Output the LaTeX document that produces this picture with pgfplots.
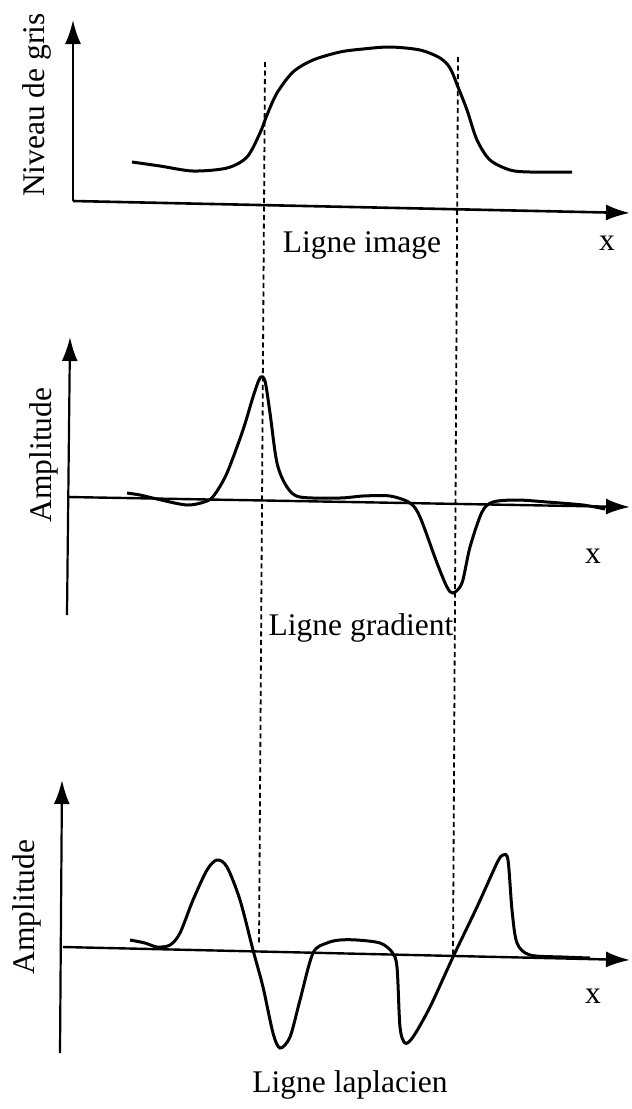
\documentclass[border=0pt]{standalone}
\usepackage{pgfplots}
\pgfplotsset{compat=1.18}
\usepackage{fontspec}
\setmainfont{Liberation Serif}
\usetikzlibrary{arrows.meta}
\begin{document}
\begin{tikzpicture}
\begin{axis}[
  x=1pt, y=1pt, y dir=reverse,
  xmin=0, xmax=629, ymin=0, ymax=1109,
  hide axis, clip=false, scale only axis,
  every axis plot/.append style={black},
]
% bounding frame (invisible)
\addplot[draw=none] coordinates {(0,0) (629,1109)};

% ---- Panel 1: Ligne image
\addplot[line width=2.2pt, -{Latex[length=24pt,width=16pt]}] coordinates {(73,201) (73,20)};
\addplot[line width=2.6pt, -{Latex[length=24pt,width=16pt]}] coordinates {(73,201) (630,213)};
\addplot[line width=3pt, smooth] coordinates {
(132,162) (160,166) (193,171) (227,168) (247,157) (260,133) (267,115) (277,93)
(293,72) (313,60) (340,52) (363,49) (390,47) (420,50) (440,58) (450,68)
(458,87) (467,110) (477,140) (490,160) (510,170) (530,172) (572,172)};

% ---- Panel 2: Ligne gradient
\addplot[line width=2.2pt, -{Latex[length=24pt,width=16pt]}] coordinates {(67,615) (70,337)};
\addplot[line width=2.4pt, -{Latex[length=24pt,width=16pt]}] coordinates {(68,497) (630,507)};
\addplot[line width=3pt, smooth] coordinates {
(127,493) (140,495) (157,499) (187,505) (207,501) (215,494) (227,473) (243,430)
(253,397) (260,378) (265,381) (270,413) (277,463) (287,487) (300,497) (340,498)
(363,496) (390,496) (410,503) (420,517) (437,563) (447,587) (453,593) (462,583)
(470,547) (482,512) (493,502) (517,500) (547,502) (583,505) (605,509)};

% ---- Panel 3: Ligne laplacien
\addplot[line width=2.2pt, -{Latex[length=24pt,width=16pt]}] coordinates {(60,1053) (62,780)};
\addplot[line width=2.4pt, -{Latex[length=24pt,width=16pt]}] coordinates {(63,947) (630,960)};
\addplot[line width=3pt, smooth] coordinates {
(130,940) (145,943) (157,947) (170,945) (180,933) (193,900) (207,870) (217,860)
(227,867) (240,900) (253,950) (263,987) (273,1033) (280,1048) (290,1037) (300,1000)
(313,953) (327,943) (340,940) (357,940) (380,943) (392,952) (397,967) (400,1027)
(405,1043) (413,1037) (430,1007) (453,957) (477,907) (497,863) (503,855) (508,860)
(512,910) (517,943) (530,955) (563,957) (590,958)};

% ---- dashed guide lines
\addplot[line width=1.8pt, dash pattern=on 5pt off 3.5pt] coordinates {(265,62) (259,945)};
\addplot[line width=1.8pt, dash pattern=on 5pt off 3.5pt] coordinates {(458,57) (453,955)};

% ---- texts
\node[font=\fontsize{31.5}{37}\selectfont] at (axis cs:362,245) {Ligne image};
\node[font=\fontsize{31.5}{37}\selectfont] at (axis cs:361,628) {Ligne gradient};
\node[font=\fontsize{31.5}{37}\selectfont] at (axis cs:350,1085) {Ligne laplacien};
\node[font=\fontsize{31.5}{37}\selectfont] at (axis cs:607,243) {x};
\node[font=\fontsize{31.5}{37}\selectfont] at (axis cs:593,556) {x};
\node[font=\fontsize{31.5}{37}\selectfont] at (axis cs:593,996) {x};
\node[font=\fontsize{31.5}{37}\selectfont, rotate=90] at (axis cs:37,105) {Niveau de gris};
\node[font=\fontsize{31.5}{37}\selectfont, rotate=90] at (axis cs:44,455) {Amplitude};
\node[font=\fontsize{31.5}{37}\selectfont, rotate=90] at (axis cs:27,907) {Amplitude};
\end{axis}
\end{tikzpicture}
\end{document}
